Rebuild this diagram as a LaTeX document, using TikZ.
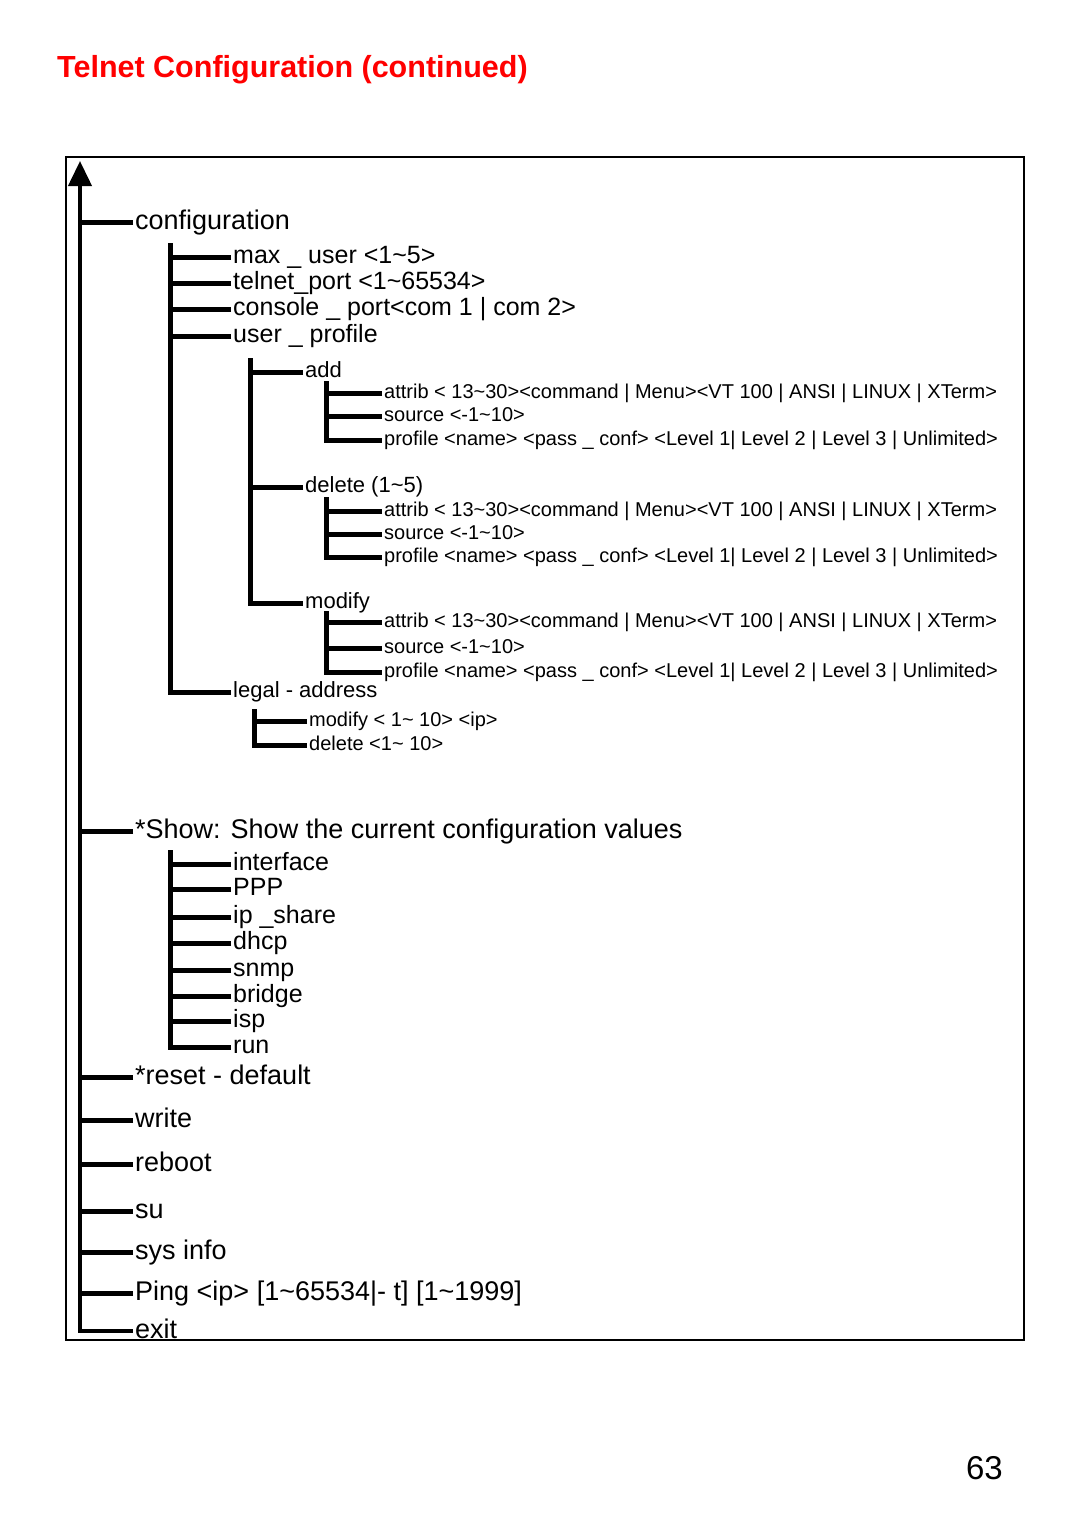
\documentclass[tikz,border=0pt]{standalone}
\usepackage{fontspec}
\setmainfont{Liberation Sans}
\usetikzlibrary{arrows.meta}

\tikzset{
  trunk/.style={line width=4pt},
  stem/.style={line width=5pt},
  twig/.style={line width=5pt}
}

\begin{document}
\begin{tikzpicture}[x=1pt, y=-1pt,
    every node/.style={anchor=west, inner sep=0pt, inner xsep=2pt},
    lvlone/.style={font=\fontsize{27}{29}\selectfont, text height=19.5pt, text depth=5.5pt},
    lvltwo/.style={font=\fontsize{25}{27}\selectfont, text height=18pt, text depth=5pt},
    lvlthree/.style={font=\fontsize{22}{24}\selectfont, text height=16pt, text depth=4.5pt},
    lvlfour/.style={font=\fontsize{20}{22}\selectfont, text height=14.5pt, text depth=4pt}]
			\useasboundingbox (0,0) rectangle (1080,1532);
			
			% Title and page number
			\node[anchor=base west, inner xsep=0pt, text=red, font=\bfseries\fontsize{30.5}{32}\selectfont] (title) at (57,77) {Telnet Configuration (continued)};
			\node[anchor=base east, inner xsep=0pt, font=\fontsize{33}{35}\selectfont] (page) at (1003,1479) {63};
			
			% Frame
			\draw[line width=2pt] (66,157) rectangle (1024,1340);
			
			% Define commands
			\node[lvlone] (cfg) at (133,222) {configuration};
			\node[lvlone] (show) at (133,831) {*Show: Show the current configuration values};
			\node[lvlone] (reset) at (133,1077) {*reset - default};
			\node[lvlone] (write) at (133,1120) {write};
			\node[lvlone] (reboot) at (133,1164) {reboot};
			\node[lvlone] (su) at (133,1211) {su};
			\node[lvlone] (sysinfo) at (133,1252) {sys info};
			\node[lvlone] (ping) at (133,1293) {Ping <ip> [1\textasciitilde 65534|- t] [1\textasciitilde 1999]};
			\node[lvlone] (exit) at (133,1331) {exit};
			
			% Define configuration items
			\node[lvltwo] (maxuser) at (231,257) {max \_ user <1\textasciitilde 5>};
			\node[lvltwo] (telnet) at (231,283) {telnet\_port <1\textasciitilde 65534>};
			\node[lvltwo] (console) at (231,309) {console \_ port<com 1 | com 2>};
			\node[lvltwo] (uprof) at (231,336) {user \_ profile};
			\node[lvlthree] (legal) at (231,692) {legal - address};
			
			% Define user profile items
			\node[lvlthree] (add) at (303,372) {add};
			\node[lvlfour] (addattr) at (382,393) {attrib < 13\textasciitilde 30><command | Menu><VT 100 | ANSI | LINUX | XTerm>};
			\node[lvlfour] (addsrc) at (382,416) {source <-1\textasciitilde 10>};
			\node[lvlfour] (addprof) at (382,440) {profile <name> <pass \_ conf> <Level 1| Level 2 | Level 3 | Unlimited>};
			
			\node[lvlthree] (del) at (303,487) {delete (1\textasciitilde 5)};
			\node[lvlfour] (delattr) at (382,511) {attrib < 13\textasciitilde 30><command | Menu><VT 100 | ANSI | LINUX | XTerm>};
			\node[lvlfour] (delsrc) at (382,534) {source <-1\textasciitilde 10>};
			\node[lvlfour] (delprof) at (382,557) {profile <name> <pass \_ conf> <Level 1| Level 2 | Level 3 | Unlimited>};
			
			\node[lvlthree] (mod) at (303,603) {modify};
			\node[lvlfour] (modattr) at (382,622) {attrib < 13\textasciitilde 30><command | Menu><VT 100 | ANSI | LINUX | XTerm>};
			\node[lvlfour] (modsrc) at (382,648) {source <-1\textasciitilde 10>};
			\node[lvlfour] (modprof) at (382,672) {profile <name> <pass \_ conf> <Level 1| Level 2 | Level 3 | Unlimited>};
			
			% Define legal address items
			\node[lvlfour] (legmod) at (307,721) {modify < 1\textasciitilde\ 10> <ip>};
			\node[lvlfour] (legdel) at (307,745) {delete <1\textasciitilde\ 10>};
			
			% Define show items
			\node[lvltwo] (iface) at (231,864) {interface};
			\node[lvltwo] (ppp) at (231,889) {PPP};
			\node[lvltwo] (ipshare) at (231,917) {ip \_share};
			\node[lvltwo] (dhcp) at (231,943) {dhcp};
			\node[lvltwo] (snmp) at (231,970) {snmp};
			\node[lvltwo] (bridge) at (231,996) {bridge};
			\node[lvltwo] (isp) at (231,1021) {isp};
			\node[lvltwo] (run) at (231,1047) {run};
			
			% Stem tops
			\coordinate (root) at (80,161);
			\coordinate (cfgstem) at (170,243);
			\coordinate (upstem) at (250,358);
			\coordinate (addstem) at (326,381);
			\coordinate (delstem) at (326,497);
			\coordinate (modstem) at (326,611);
			\coordinate (legstem) at (254,709);
			\coordinate (showstem) at (170,850);
			
			% Main trunk
			\draw[trunk, {Triangle[length=25pt, width=23pt]}-] (root) |- (exit.west);
			\draw[twig] (cfg.west) -- (cfg.west -| root);
			\draw[twig] (show.west) -- (show.west -| root);
			\draw[twig] (reset.west) -- (reset.west -| root);
			\draw[twig] (write.west) -- (write.west -| root);
			\draw[twig] (reboot.west) -- (reboot.west -| root);
			\draw[twig] (su.west) -- (su.west -| root);
			\draw[twig] (sysinfo.west) -- (sysinfo.west -| root);
			\draw[twig] (ping.west) -- (ping.west -| root);
			
			% Edges under configuration
			\draw[stem] (cfgstem) |- (legal.west);
			\draw[twig] (maxuser.west) -- (maxuser.west -| cfgstem);
			\draw[twig] (telnet.west) -- (telnet.west -| cfgstem);
			\draw[twig] (console.west) -- (console.west -| cfgstem);
			\draw[twig] (uprof.west) -- (uprof.west -| cfgstem);
			
			% Edges under user profile
			\draw[stem] (upstem) |- (mod.west);
			\draw[twig] (add.west) -- (add.west -| upstem);
			\draw[twig] (del.west) -- (del.west -| upstem);
			
			% Edges under add
			\draw[stem] (addstem) |- (addprof.west);
			\draw[twig] (addattr.west) -- (addattr.west -| addstem);
			\draw[twig] (addsrc.west) -- (addsrc.west -| addstem);
			
			% Edges under delete
			\draw[stem] (delstem) |- (delprof.west);
			\draw[twig] (delattr.west) -- (delattr.west -| delstem);
			\draw[twig] (delsrc.west) -- (delsrc.west -| delstem);
			
			% Edges under modify
			\draw[stem] (modstem) |- (modprof.west);
			\draw[twig] (modattr.west) -- (modattr.west -| modstem);
			\draw[twig] (modsrc.west) -- (modsrc.west -| modstem);
			
			% Edges under legal address
			\draw[stem] (legstem) |- (legdel.west);
			\draw[twig] (legmod.west) -- (legmod.west -| legstem);
			
			% Edges under show
			\draw[stem] (showstem) |- (run.west);
			\draw[twig] (iface.west) -- (iface.west -| showstem);
			\draw[twig] (ppp.west) -- (ppp.west -| showstem);
			\draw[twig] (ipshare.west) -- (ipshare.west -| showstem);
			\draw[twig] (dhcp.west) -- (dhcp.west -| showstem);
			\draw[twig] (snmp.west) -- (snmp.west -| showstem);
			\draw[twig] (bridge.west) -- (bridge.west -| showstem);
			\draw[twig] (isp.west) -- (isp.west -| showstem);
			
		\end{tikzpicture}
\end{document}
